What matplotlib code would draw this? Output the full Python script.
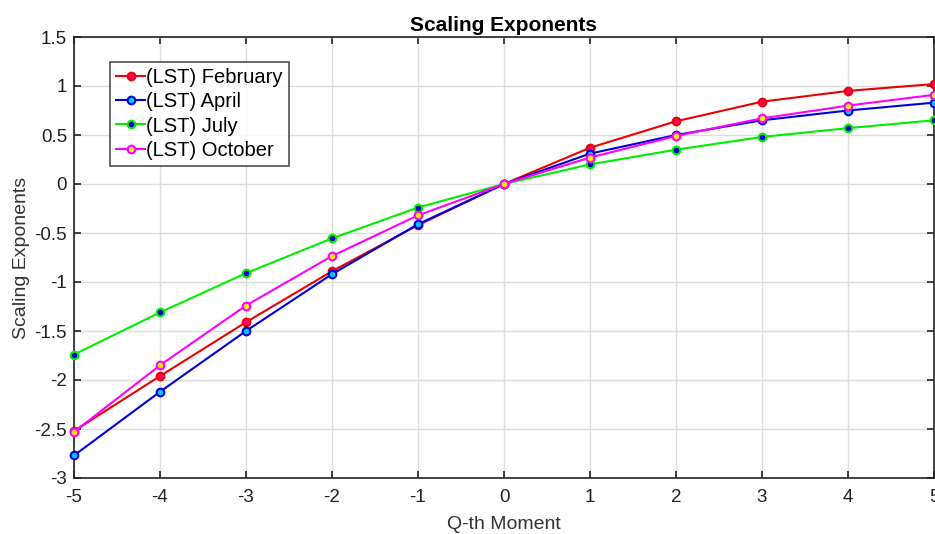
import matplotlib
matplotlib.use("Agg")
import matplotlib.pyplot as plt

plt.rcParams['font.family'] = ['Liberation Sans', 'DejaVu Sans']

q = [-5, -4, -3, -2, -1, 0, 1, 2, 3, 4, 5]
feb = [-2.52, -1.96, -1.41, -0.89, -0.42, 0.0, 0.37, 0.64, 0.84, 0.95, 1.02]
apr = [-2.77, -2.12, -1.50, -0.92, -0.41, 0.0, 0.31, 0.50, 0.65, 0.75, 0.83]
jul = [-1.74, -1.31, -0.91, -0.555, -0.24, 0.0, 0.20, 0.35, 0.48, 0.57, 0.65]
octo = [-2.53, -1.85, -1.24, -0.735, -0.32, 0.0, 0.27, 0.49, 0.67, 0.80, 0.91]

labels = ['(LST) February', '(LST) April', '(LST) July', '(LST) October']
series = [feb, apr, jul, octo]
line_colors = ['#EE0000', '#0000DD', '#00EE00', '#FF00FF']
face_colors = ['#FF0066', '#00C8FF', '#0000CC', '#FFEE00']

xticks = [-5, -4, -3, -2, -1, 0, 1, 2, 3, 4, 5]
yticks = [-3, -2.5, -2, -1.5, -1, -0.5, 0, 0.5, 1, 1.5]
ytick_labels = ['-3', '-2.5', '-2', '-1.5', '-1', '-0.5', '0', '0.5', '1', '1.5']

fig = plt.figure(figsize=(9.35, 5.34), dpi=100)
ax = fig.add_axes([74/935, 1 - 478/534, 860/935, (478 - 37)/534])

for ys, lab, lc, fc in zip(series, labels, line_colors, face_colors):
    ax.plot(q, ys, '-o', color=lc, lw=1.5, markersize=5.5,
            markerfacecolor=fc, markeredgecolor=lc, markeredgewidth=1.5,
            label=lab, clip_on=False, zorder=3)

ax.set_xlim(-5, 5)
ax.set_ylim(-3, 1.5)
ax.set_xticks(xticks)
ax.set_xticklabels([str(v) for v in xticks])
ax.set_yticks(yticks)
ax.set_yticklabels(ytick_labels)
ax.grid(True, color='#DDDDDD', lw=1.0)
ax.set_axisbelow(True)
ax.tick_params(direction='in', top=True, right=True, length=5, width=1.2,
               labelsize=13.5, colors='#222222')
ax.tick_params(axis='x', pad=8)
ax.tick_params(axis='y', pad=5)
for sp in ax.spines.values():
    sp.set_linewidth(1.2)
    sp.set_color('#222222')

ax.set_title('Scaling Exponents', fontsize=15, fontweight='bold', pad=4)
ax.set_xlabel('Q-th Moment', fontsize=14, color='#333333', labelpad=7)
ax.set_ylabel('Scaling Exponents', fontsize=14, color='#333333', labelpad=3)

leg = ax.legend(loc='upper left', bbox_to_anchor=(36/860, 1 - 25/441),
                fontsize=14.5, frameon=True, fancybox=False, edgecolor='#222222',
                handlelength=1.45, handletextpad=0.05, borderpad=0.3,
                labelspacing=0.26, borderaxespad=0.0)
leg.get_frame().set_linewidth(1.2)

fig.savefig('out.png', dpi=100)
